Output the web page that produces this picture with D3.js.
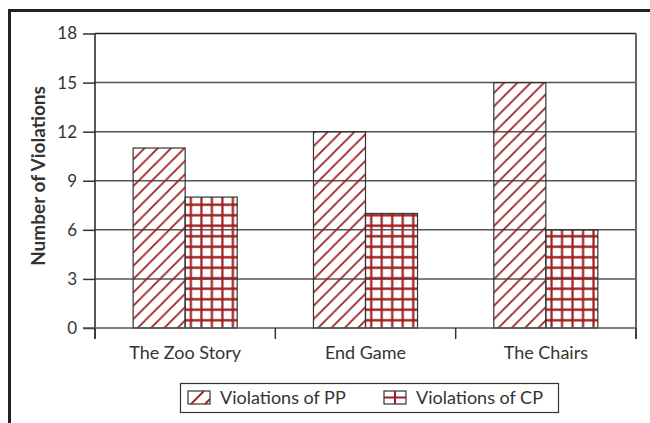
<!DOCTYPE html>
<html>
<head>
<meta charset="utf-8">
<script src="https://cdn.jsdelivr.net/npm/d3@7"></script>
<style>
  body { margin:0; background:#fff; }
  text { font-family: Lato, "Open Sans", sans-serif; fill:#333; }
</style>
</head>
<body>
<div id="chart"></div>
<script>
// data
var categories=["The Zoo Story","End Game","The Chairs"];
var seriesNames=["Violations of PP","Violations of CP"];
var ppValues=[11,12,15];
var cpValues=[8,7,6];
var yTicks=[0,3,6,9,12,15,18];

var width=650, height=423;
var pLeft=95, pRight=636, pTop=33.5, pBottom=328;
var red="#9e1f1f";

var svg=d3.select("#chart").append("svg")
    .attr("width",width).attr("height",height);

// patterns
var defs=svg.append("defs");
var stripe=defs.append("pattern").attr("id","stripes")
    .attr("patternUnits","userSpaceOnUse")
    .attr("width",13.3).attr("height",13.3);
stripe.append("path")
    .attr("d","M-3.3,3.3 L3.3,-3.3 M0,13.3 L13.3,0 M10,16.6 L16.6,10")
    .attr("stroke",red).attr("stroke-width",1.8);
var grid=defs.append("pattern").attr("id","grid")
    .attr("patternUnits","userSpaceOnUse")
    .attr("width",10.5).attr("height",10.5);
grid.append("path")
    .attr("d","M5.25,0 V10.5 M0,5.25 H10.5")
    .attr("stroke",red).attr("stroke-width",2.2);

// outer frame (only top and left visible)
svg.append("rect").attr("x",9.5).attr("y",10.5)
    .attr("width",700).attr("height",500)
    .attr("fill","none").attr("stroke","#222").attr("stroke-width",3);

var x=d3.scaleBand().domain(categories).range([pLeft,pRight])
    .paddingInner(0.423).paddingOuter(0.2115);
var xs=d3.scaleBand().domain(seriesNames).range([0,x.bandwidth()]);
var y=d3.scaleLinear().domain([0,18]).range([pBottom,pTop]);

// gridlines
svg.append("g").selectAll("line").data(yTicks.filter(d=>d>0))
  .join("line")
    .attr("x1",pLeft).attr("x2",pRight)
    .attr("y1",d=>y(d)).attr("y2",d=>y(d))
    .attr("stroke",d=>d==18?"#222":"#555")
    .attr("stroke-width",1.5);

// right border
svg.append("line").attr("x1",pRight).attr("x2",pRight)
    .attr("y1",pTop).attr("y2",pBottom+11)
    .attr("stroke","#666").attr("stroke-width",2);

// bars
var rows=categories.map((c,i)=>({cat:c,vals:[ppValues[i],cpValues[i]]}));
var fills=["url(#stripes)","url(#grid)"];
var g=svg.append("g").selectAll("g").data(rows).join("g")
    .attr("transform",d=>"translate("+x(d.cat)+",0)");
g.selectAll("rect").data(d=>d.vals.map((v,j)=>({s:seriesNames[j],v:v,j:j})))
  .join("rect")
    .attr("x",d=>xs(d.s)).attr("width",xs.bandwidth())
    .attr("y",d=>y(d.v)).attr("height",d=>y(0)-y(d.v))
    .attr("fill",d=>fills[d.j])
    .attr("stroke","#333").attr("stroke-width",1.2);

// y axis
var yAxis=svg.append("g").attr("transform","translate("+pLeft+",0)")
    .call(d3.axisLeft(y).tickValues(yTicks).tickSize(12).tickPadding(6));
yAxis.select(".domain").attr("stroke","#222").attr("stroke-width",1.5)
    .attr("d","M0,"+pTop+"V"+(pBottom+11));
yAxis.selectAll(".tick line").attr("stroke","#333").attr("stroke-width",1.5);
yAxis.selectAll(".tick text").attr("font-size",17).attr("fill","#333")
    .attr("font-family","Lato, sans-serif");

// x axis
var xAxis=svg.append("g").attr("transform","translate(0,"+pBottom+")");
xAxis.append("line").attr("x1",pLeft-12).attr("x2",pRight)
    .attr("stroke","#555").attr("stroke-width",1.5);
xAxis.selectAll(".tk").data(d3.range(categories.length+1)).join("line")
    .attr("x1",i=>pLeft+i*x.step()).attr("x2",i=>pLeft+i*x.step())
    .attr("y1",0).attr("y2",11)
    .attr("stroke","#333").attr("stroke-width",1.5);
xAxis.selectAll(".lbl").data(categories).join("text")
    .attr("x",d=>x(d)+x.bandwidth()/2).attr("y",31)
    .attr("text-anchor","middle").attr("font-size",18)
    .text(d=>d);

// y label
svg.append("text")
    .attr("transform","translate(45,176) rotate(-90)")
    .attr("text-anchor","middle").attr("font-size",19)
    .attr("font-weight","bold").attr("fill","#222")
    .text("Number of Violations");

// legend
var lg=svg.append("g");
lg.append("rect").attr("x",180.5).attr("y",383.5).attr("width",378).attr("height",29)
    .attr("fill","#fff").attr("stroke","#333").attr("stroke-width",1.2);
var legX=[188,384];
seriesNames.forEach(function(s,i){
    lg.append("rect").attr("x",legX[i]).attr("y",391).attr("width",22).attr("height",13)
        .attr("fill","none").attr("stroke","#333").attr("stroke-width",1.2);
    if (i==0){
        lg.append("line").attr("x1",legX[i]+3).attr("y1",404).attr("x2",legX[i]+16).attr("y2",391)
            .attr("stroke",red).attr("stroke-width",1.8);
        lg.append("line").attr("x1",legX[i]+17).attr("y1",404).attr("x2",legX[i]+22).attr("y2",399)
            .attr("stroke",red).attr("stroke-width",1.8);
    } else {
        lg.append("line").attr("x1",legX[i]+11).attr("y1",391).attr("x2",legX[i]+11).attr("y2",404)
            .attr("stroke",red).attr("stroke-width",2);
        lg.append("line").attr("x1",legX[i]).attr("y1",397.5).attr("x2",legX[i]+22).attr("y2",397.5)
            .attr("stroke",red).attr("stroke-width",2);
    }
    lg.append("text").attr("x",legX[i]+32).attr("y",404).attr("font-size",18).text(s);
});
</script>
</body>
</html>
